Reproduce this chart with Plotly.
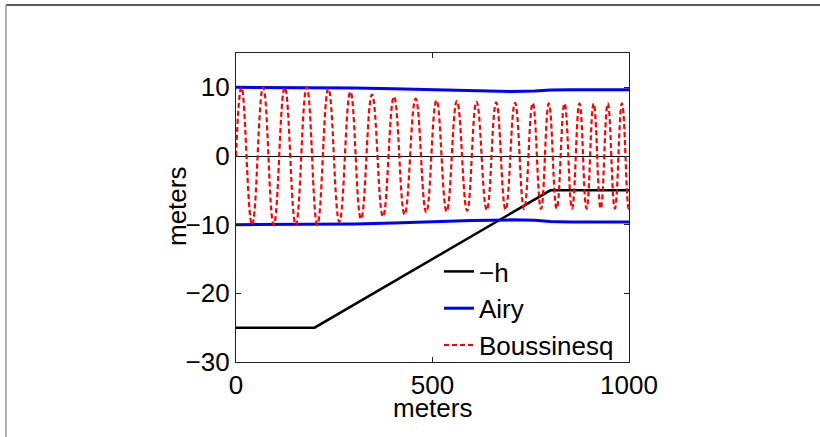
import plotly.graph_objects as go

# -h (bottom profile)
depth_x = [0, 200, 800, 1000]
neg_h = [-25, -25, -5, -5]

# Airy envelope (upper and lower)
airy_x = [0, 100, 200, 300, 400, 500, 600, 700, 760, 800, 850, 1000]
airy_top = [10, 10, 10, 9.9, 9.8, 9.65, 9.5, 9.4, 9.45, 9.6, 9.65, 9.65]
airy_bot = [-10, -10, -10, -9.9, -9.75, -9.55, -9.4, -9.3, -9.35, -9.55, -9.6, -9.6]

# Boussinesq surface elevation: start, crests/troughs, end
bous_x = [0, 14, 41, 69, 96, 124, 152, 180, 207, 235, 263, 291, 318, 346, 374, 402, 429,
          457, 484, 510, 536, 562, 588, 612, 638, 662, 686, 710, 733, 755, 776, 796, 816,
          836, 855, 874, 892, 910, 928, 946, 964, 982, 999, 1000]
bous_y = [0, 10, -10, 10, -10, 10, -10, 10, -9.95, 9.8, -9.6, 9.35, -9.15, 8.95, -8.8, 8.65, -8.5,
          8.35, -8.2, 8.1, -8.05, 8.0, -7.95, 7.9, -7.85, 7.8, -7.8, 7.75, -7.75, 7.7, -7.7, 7.65, -7.65,
          7.65, -7.65, 7.65, -7.65, 7.65, -7.65, 7.65, -7.65, 7.65, -7.65, -7.6]

x_ticks = [0, 500, 1000]
y_ticks = [-30, -20, -10, 0, 10]

FONT = "Liberation Sans, Arial, Helvetica, sans-serif"

fig = go.Figure()
fig.add_trace(go.Scatter(x=depth_x, y=neg_h, mode="lines", name="\u2212h",
                         line=dict(color="black", width=2.5)))
fig.add_trace(go.Scatter(x=airy_x + [None] + airy_x, y=airy_top + [None] + airy_bot,
                         mode="lines", name="Airy",
                         line=dict(color="#0000ff", width=3)))
fig.add_trace(go.Scatter(x=bous_x, y=bous_y, mode="lines", name="Boussinesq",
                         line=dict(color="#ff0000", width=2.2, dash="5px,3px",
                                   shape="spline", smoothing=1.3)))

L, R, T, B = 236, 629, 53, 362
W, H = 820, 437

axis_common = dict(showline=True, linecolor="#222222", linewidth=1.2, mirror="ticks",
                   ticks="inside", ticklen=5, tickcolor="#222222", showgrid=False,
                   tickfont=dict(family=FONT, size=26, color="black"))

fig.update_xaxes(range=[0, 1000], tickvals=x_ticks, zeroline=False, **axis_common)
fig.update_yaxes(range=[-30, 15], tickvals=y_ticks, zeroline=True, zerolinecolor="black",
                 zerolinewidth=1, **axis_common)

def px_x(p):
    return (p - L) / (R - L)

def px_y(p):
    return (B - p) / (B - T)

fig.update_layout(
    width=W, height=H,
    margin=dict(l=L, r=W - R, t=T, b=H - B, autoexpand=False),
    paper_bgcolor="white", plot_bgcolor="white",
    font=dict(family=FONT, size=26, color="black"),
    showlegend=True,
    legend=dict(x=px_x(439), y=px_y(248), xanchor="left", yanchor="top",
                bgcolor="rgba(255,255,255,0)", borderwidth=0,
                font=dict(family=FONT, size=26, color="black"),
                tracegroupgap=0),
    annotations=[
        dict(text="meters", x=px_x(432.5), y=px_y(408), xref="paper", yref="paper",
             showarrow=False, font=dict(family=FONT, size=26, color="black"),
             xanchor="center", yanchor="middle"),
        dict(text="meters", x=px_x(177), y=px_y(207), xref="paper", yref="paper",
             showarrow=False, textangle=-90, font=dict(family=FONT, size=26, color="black"),
             xanchor="center", yanchor="middle"),
    ],
    shapes=[
        dict(type="line", xref="paper", yref="paper", x0=px_x(6), x1=px_x(820),
             y0=px_y(5), y1=px_y(5), line=dict(color="#222222", width=1.5)),
        dict(type="line", xref="paper", yref="paper", x0=px_x(6), x1=px_x(6),
             y0=px_y(5), y1=px_y(437), line=dict(color="#999999", width=1.5)),
    ],
)

fig.write_html("out.html", config={"displayModeBar": False},
               post_script="document.body.style.margin='0px';")
